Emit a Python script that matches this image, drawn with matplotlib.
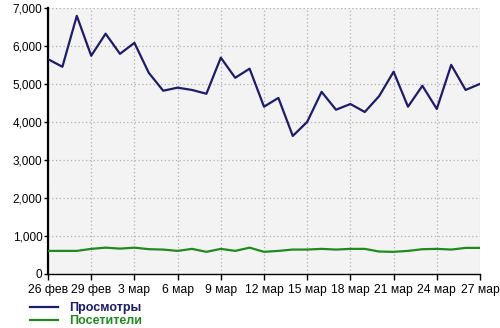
import matplotlib
matplotlib.use("Agg")
import matplotlib.pyplot as plt
from matplotlib.lines import Line2D
from matplotlib.ticker import FuncFormatter

days = ["26 фев", "27 фев", "28 фев", "29 фев"] + [f"{d} мар" for d in range(1, 28)]
views = [5650, 5450, 6790, 5740, 6320, 5790, 6080, 5290, 4820, 4900, 4840, 4740,
         5690, 5160, 5400, 4400, 4630, 3630, 4000, 4790, 4320, 4470, 4260, 4680,
         5320, 4400, 4950, 4340, 5500, 4840, 5000]
visitors = [605, 605, 605, 658, 690, 665, 690, 650, 640, 605, 658, 580,
            658, 605, 690, 580, 605, 640, 640, 658, 640, 658, 658, 588,
            580, 605, 649, 658, 640, 684, 684]
series_names = ["Просмотры", "Посетители"]
colors = ["#1c1c6b", "#1f8a1f"]
yticks = [0, 1000, 2000, 3000, 4000, 5000, 6000, 7000]

plt.rcParams['font.family'] = ['Liberation Sans', 'DejaVu Sans']

fig = plt.figure(figsize=(5.0, 3.28), dpi=100)
ax = fig.add_axes([0.096, 0.165, 0.864, 0.811])
ax.set_facecolor("#f3f3f3")

x = list(range(len(days)))
ax.plot(x, views, color=colors[0], lw=1.6, zorder=3)
ax.plot(x, visitors, color=colors[1], lw=1.6, zorder=3)

ax.set_xlim(0, len(days) - 1)
ax.set_ylim(0, 7000)
xt = x[::3]
ax.set_xticks(xt)
ax.set_xticklabels([days[i] for i in xt], fontsize=8.7)
ax.set_yticks(yticks)
ax.yaxis.set_major_formatter(FuncFormatter(lambda v, p: f"{int(v):,}"))
ax.tick_params(axis='y', labelsize=8.5, length=3, width=1, pad=1)
ax.tick_params(axis='x', length=4, width=1, pad=3)

ax.grid(True, color="#b0b0b0", linestyle=(0, (1, 2)), linewidth=0.9)
for s in ["top", "right"]:
    ax.spines[s].set_visible(False)
ax.spines["left"].set_linewidth(1.6)
ax.spines["bottom"].set_linewidth(1.0)

handles = [Line2D([], [], color=c, lw=1.6) for c in colors]
leg = fig.legend(handles, series_names, loc="upper left",
                 bbox_to_anchor=(0.048, 0.097), frameon=False,
                 prop={'weight': 'bold', 'size': 9}, handlelength=2.2,
                 labelspacing=0.05, handletextpad=0.9, borderpad=0.0)
for t, c in zip(leg.get_texts(), colors):
    t.set_color(c)

fig.savefig("out.png", dpi=100)
